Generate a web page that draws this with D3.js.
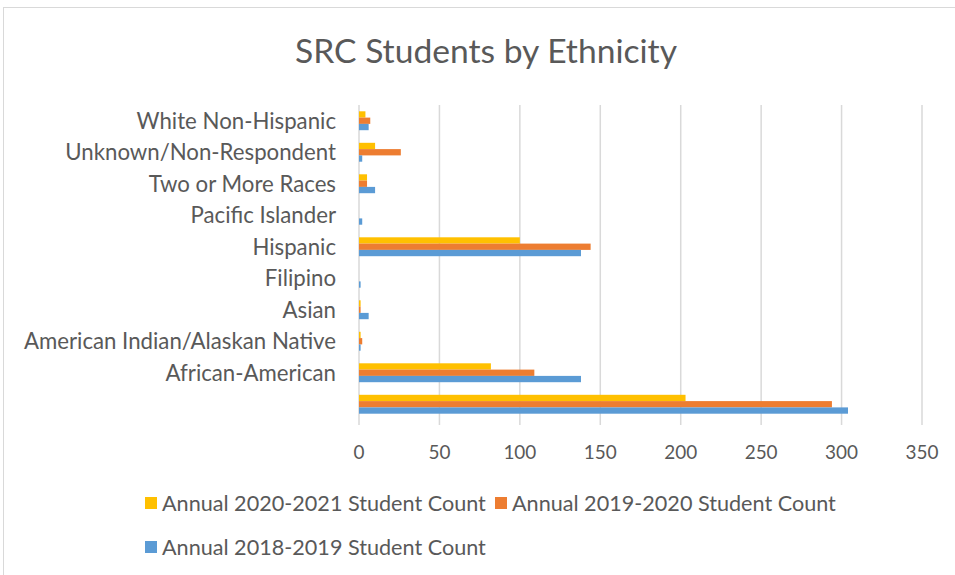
<!DOCTYPE html>
<html>
<head>
<meta charset="utf-8">
<script src="https://cdn.jsdelivr.net/npm/d3@7"></script>
<style>
  body { margin: 0; background: white; }
  text { font-family: Lato, 'Open Sans', sans-serif; fill: #595959; }
</style>
</head>
<body>
<script>
// Define data (top to bottom, last row is the unlabeled total)
let categories = ['White Non-Hispanic', 'Unknown/Non-Respondent', 'Two or More Races', 'Pacific Islander',
  'Hispanic', 'Filipino', 'Asian', 'American Indian/Alaskan Native', 'African-American', '']
let seriesNames = ['Annual 2020-2021 Student Count', 'Annual 2019-2020 Student Count', 'Annual 2018-2019 Student Count']
let count2021 = [4, 10, 5, 0, 100, 0, 1, 1, 82, 203]
let count2020 = [7, 26, 5, 0, 144, 0, 1, 2, 109, 294]
let count2019 = [6, 2, 10, 2, 138, 1, 6, 1, 138, 304]
let xTicks = [0, 50, 100, 150, 200, 250, 300, 350]
let colors = ['#FFC000', '#ED7D31', '#5B9BD5']

let width = 955, height = 575
let margin = { top: 105, bottom: 155, left: 359, right: 33 }

let seriesValues = [count2021, count2020, count2019]
let rows = []
categories.forEach((c, i) => {
  seriesNames.forEach((s, j) => rows.push({ cat: c, series: s, value: seriesValues[j][i], color: colors[j] }))
})

let svg = d3.select('body').append('svg')
  .attr('width', width)
  .attr('height', height)

// set font size so that one sample text gets the wanted width
function fitSize(sel, sample, target) {
  let t = svg.append('text').style('font-size', '20px').text(sample)
  let w = t.node().getComputedTextLength()
  t.remove()
  sel.style('font-size', (20 * target / w).toFixed(2) + 'px')
}

// chart border
svg.append('rect')
  .attr('x', 3.5).attr('y', 7.5)
  .attr('width', width + 10).attr('height', height + 10)
  .attr('fill', 'none').attr('stroke', '#d9d9d9')

let xScale = d3.scaleLinear()
  .domain([0, 350])
  .range([margin.left, width - margin.right])

let yScale = d3.scaleBand()
  .domain(categories)
  .range([margin.top, height - margin.bottom])
  .paddingInner(0.4)
  .paddingOuter(0.2)

let inner = d3.scaleBand()
  .domain(seriesNames)
  .range([0, yScale.bandwidth()])

// gridlines
svg.selectAll('.grid')
  .data(xTicks)
  .enter()
  .append('line')
  .attr('x1', d => xScale(d)).attr('x2', d => xScale(d))
  .attr('y1', margin.top).attr('y2', height - margin.bottom + 5)
  .attr('stroke', '#d9d9d9')
  .attr('stroke-width', 1.5)

// bars
svg.selectAll('.bar')
  .data(rows)
  .enter()
  .append('rect')
  .attr('x', xScale(0))
  .attr('y', d => yScale(d.cat) + inner(d.series))
  .attr('width', d => xScale(d.value) - xScale(0))
  .attr('height', inner.bandwidth())
  .attr('fill', d => d.color)

// y labels
let ylab = svg.selectAll('.ylab')
  .data(categories)
  .enter()
  .append('text')
  .attr('x', 336)
  .attr('y', d => yScale(d) + yScale.bandwidth() / 2)
  .attr('dy', '0.35em')
  .attr('text-anchor', 'end')
  .text(d => d)
fitSize(ylab, 'American Indian/Alaskan Native', 312)

// x tick labels
let xlab = svg.selectAll('.xlab')
  .data(xTicks)
  .enter()
  .append('text')
  .attr('x', d => xScale(d))
  .attr('y', 452)
  .attr('dy', '0.35em')
  .attr('text-anchor', 'middle')
  .text(d => d)
fitSize(xlab, '350', 33)

// title
let title = svg.append('text')
  .attr('x', 486)
  .attr('y', 63)
  .attr('text-anchor', 'middle')
  .text('SRC Students by Ethnicity')
fitSize(title, 'SRC Students by Ethnicity', 382)

// legend
let legendPos = [[145, 503], [495, 503], [145, 547]]
let legend = svg.selectAll('.legend')
  .data(seriesNames)
  .enter()
  .append('g')
  .attr('transform', (d, i) => `translate(${legendPos[i][0]},${legendPos[i][1]})`)

legend.append('rect')
  .attr('x', 0).attr('y', -6)
  .attr('width', 12).attr('height', 12)
  .attr('fill', (d, i) => colors[i])

let legText = legend.append('text')
  .attr('x', 17)
  .attr('dy', '0.35em')
  .text(d => d)
fitSize(legText, 'Annual 2020-2021 Student Count', 324)
</script>
</body>
</html>
